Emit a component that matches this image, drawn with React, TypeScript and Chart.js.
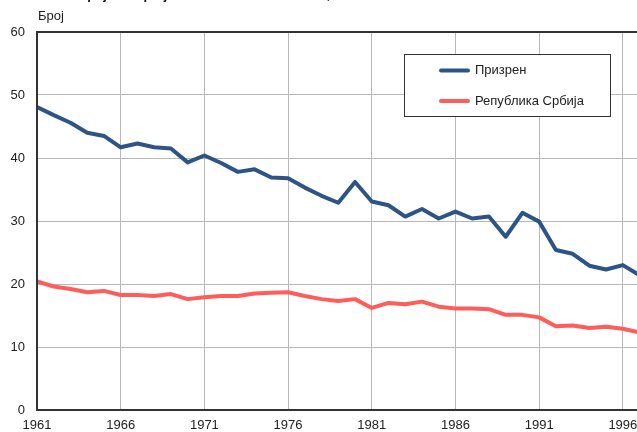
import React, { useEffect, useRef } from "react";
import { Chart, registerables } from "chart.js";

Chart.register(...registerables);

const years = [
  1961, 1962, 1963, 1964, 1965, 1966, 1967, 1968, 1969, 1970,
  1971, 1972, 1973, 1974, 1975, 1976, 1977, 1978, 1979, 1980,
  1981, 1982, 1983, 1984, 1985, 1986, 1987, 1988, 1989, 1990,
  1991, 1992, 1993, 1994, 1995, 1996, 1997,
];

const prizren = [
  48.1, 46.8, 45.6, 44.0, 43.5, 41.7, 42.3, 41.7, 41.5, 39.3,
  40.4, 39.2, 37.8, 38.2, 36.9, 36.8, 35.3, 34.0, 32.9, 36.2,
  33.1, 32.5, 30.7, 31.9, 30.4, 31.5, 30.4, 30.7, 27.5, 31.3,
  29.9, 25.4, 24.8, 22.9, 22.3, 23.0, 21.4,
];

const srbija = [
  20.4, 19.6, 19.2, 18.7, 18.9, 18.25, 18.25, 18.1, 18.4, 17.6,
  17.9, 18.1, 18.1, 18.5, 18.6, 18.7, 18.1, 17.6, 17.3, 17.6,
  16.2, 17.0, 16.8, 17.2, 16.4, 16.1, 16.1, 16.0, 15.1, 15.1,
  14.7, 13.3, 13.4, 13.0, 13.2, 12.9, 12.3,
];

const xTicks = [1961, 1966, 1971, 1976, 1981, 1986, 1991, 1996, 2001];
const yTicks = [0, 10, 20, 30, 40, 50, 60];

const seriesNames = ["Призрен", "Република Србија"];
const seriesColors = ["#2e5486", "#ff5c5c"];
const titleText = "Број живорођених на 1000 становника, 1961–2011";
const yAxisTitle = "Број";

const FONT = "'Liberation Sans', Arial, sans-serif";

const decorPlugin = {
  id: "decor",
  afterDatasetsDraw(chart: any) {
    const { ctx, chartArea } = chart;
    ctx.save();
    // plot border
    ctx.strokeStyle = "#333333";
    ctx.lineWidth = 2;
    ctx.beginPath();
    ctx.moveTo(chartArea.right, chartArea.top);
    ctx.lineTo(chartArea.left, chartArea.top);
    ctx.lineTo(chartArea.left, chartArea.bottom);
    ctx.lineTo(chartArea.right, chartArea.bottom);
    ctx.stroke();

    // legend box
    const bx = 404.5, by = 54.5, bw = 206, bh = 62;
    ctx.fillStyle = "#ffffff";
    ctx.fillRect(bx, by, bw, bh);
    ctx.strokeStyle = "#333333";
    ctx.lineWidth = 1;
    ctx.strokeRect(bx, by, bw, bh);
    const rows = [70.5, 101];
    ctx.font = `13px ${FONT}`;
    ctx.textBaseline = "middle";
    ctx.textAlign = "left";
    rows.forEach((ry, i) => {
      ctx.strokeStyle = seriesColors[i];
      ctx.lineWidth = 4;
      ctx.lineCap = "round";
      ctx.beginPath();
      ctx.moveTo(441, ry);
      ctx.lineTo(468, ry);
      ctx.stroke();
      ctx.fillStyle = "#222222";
      ctx.fillText(seriesNames[i], 475, ry);
    });

    // title (cut off at top) and axis title
    ctx.fillStyle = "#111111";
    ctx.font = `bold 13px ${FONT}`;
    ctx.textBaseline = "alphabetic";
    ctx.fillText(titleText, 78, -1);
    ctx.fillStyle = "#222222";
    ctx.font = `13px ${FONT}`;
    ctx.fillText(yAxisTitle, 38, 20);
    ctx.restore();
  },
};

export default function App() {
  const ref = useRef<HTMLCanvasElement | null>(null);

  useEffect(() => {
    if (!ref.current) return;
    const chart = new Chart(ref.current, {
      type: "line",
      data: {
        datasets: [
          {
            label: seriesNames[0],
            data: years.map((x, i) => ({ x, y: prizren[i] })),
            borderColor: seriesColors[0],
            backgroundColor: seriesColors[0],
            borderWidth: 4,
            pointRadius: 0,
            tension: 0,
            borderJoinStyle: "round",
          },
          {
            label: seriesNames[1],
            data: years.map((x, i) => ({ x, y: srbija[i] })),
            borderColor: seriesColors[1],
            backgroundColor: seriesColors[1],
            borderWidth: 4,
            pointRadius: 0,
            tension: 0,
            borderJoinStyle: "round",
          },
        ],
      },
      options: {
        responsive: false,
        animation: false,
        devicePixelRatio: 1,
        layout: { padding: { top: 32, left: 0, right: 15, bottom: 0 } },
        plugins: {
          legend: { display: false },
          title: { display: false },
          tooltip: { enabled: false },
        },
        scales: {
          x: {
            type: "linear",
            min: 1961,
            max: 2001,
            afterBuildTicks: (scale: any) => {
              scale.ticks = xTicks.map((v) => ({ value: v }));
            },
            afterFit: (scale: any) => {
              scale.height = 22;
            },
            grid: { color: "#b8b8b8", lineWidth: 1, drawTicks: false },
            border: { display: false },
            ticks: {
              padding: 8,
              color: "#222222",
              font: { family: FONT, size: 13 },
              maxRotation: 0,
              autoSkip: false,
              callback: (v: any) => String(v),
            },
          },
          y: {
            min: 0,
            max: 60,
            afterBuildTicks: (scale: any) => {
              scale.ticks = yTicks.map((v) => ({ value: v }));
            },
            afterFit: (scale: any) => {
              scale.width = 37;
            },
            grid: { color: "#b8b8b8", lineWidth: 1, drawTicks: false },
            border: { display: false },
            ticks: {
              padding: 12,
              color: "#222222",
              font: { family: FONT, size: 13 },
              callback: (v: any) => String(v),
            },
          },
        },
      },
      plugins: [decorPlugin],
    });
    return () => chart.destroy();
  }, []);

  return (
    <div
      style={{
        position: "fixed",
        top: 0,
        left: 0,
        width: 637,
        height: 432,
        overflow: "hidden",
        background: "#ffffff",
      }}
    >
      <canvas ref={ref} width={729} height={432} style={{ display: "block" }} />
    </div>
  );
}
